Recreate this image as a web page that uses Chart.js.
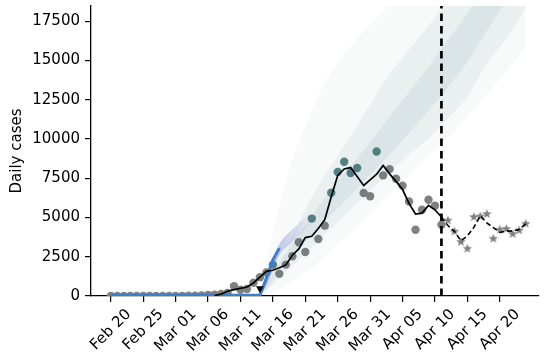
<!DOCTYPE html>
<html>
<head>
<meta charset="utf-8">
<script src="https://cdn.jsdelivr.net/npm/chart.js@4.4.1/dist/chart.umd.min.js"></script>
<style>
  html, body { margin: 0; padding: 0; background: #fff; }
  #wrap { width: 544px; height: 358px; }
</style>
</head>
<body>
<div id="wrap"><canvas id="casesChart"></canvas></div>
<script>
// day 0 = Feb 20 (2020)
const tickDays = [0, 5, 10, 15, 20, 25, 30, 35, 40, 45, 50, 55, 60];
const tickLabels = ['Feb 20', 'Feb 25', 'Mar 01', 'Mar 06', 'Mar 11', 'Mar 16', 'Mar 21',
                    'Mar 26', 'Mar 31', 'Apr 05', 'Apr 10', 'Apr 15', 'Apr 20'];
const yTicks = [0, 2500, 5000, 7500, 10000, 12500, 15000, 17500];
const yMax = 18470;
const cutoffDay = 51;

// observed daily cases, day 0..51
const observed = [0, 0, 0, 0, 0, 0, 0, 0, 0, 0,
                  5, 10, 15, 20, 30, 60, 90, 130, 200, 620,
                  400, 450, 840, 1200, 1500, 2000, 1410, 2000, 2530, 3420,
                  2800, 4930, 3630, 4480, 6580, 7900, 8550, 7830, 8150, 6560,
                  6350, 9200, 7680, 8080, 7470, 7020, 6020, 4220, 5490, 6130,
                  5750, 4540];
// cases after the cut-off, day 52..64
const laterStart = 52;
const later = [4810, 4110, 3440, 3010, 5030, 5070, 5220, 3650, 4220, 4270, 3950, 4180, 4600];

// smoothed curve, day 16..51 and dashed part day 51..64
const smoothStart = 16;
const smoothed = [30, 120, 300, 410, 490, 570, 830, 1200, 1570, 1640,
                  1800, 1980, 2600, 3000, 3720, 3800, 4300, 4860, 6320, 7680,
                  8090, 8180, 7610, 7040, 7400, 7760, 8310, 7780, 7300, 6780,
                  5900, 5220, 5280, 5770, 5490, 5030];
const smoothLater = [5030, 4490, 4120, 3520, 3830, 4370, 5110, 4650, 4360, 4050, 4150, 4130, 4240, 4600];

// intervention marker
const markerDay = 23;
const markerValue = 470;

// model fit (blue)
const fitDays = [0, 23, 24, 25, 26];
const fitValues = [50, 50, 1150, 2300, 3050];

// early sample band (purple)
const earlyDays = [23, 24, 26, 28, 30, 31];
const earlyLow = [0, 700, 2600, 3450, 4250, 4700];
const earlyHigh = [100, 1300, 3300, 4250, 5000, 5500];

// projection sample band
const fanDays = [23, 24, 25, 26, 28, 31, 34, 37, 40, 43, 46, 49, 52, 55, 58, 61, 64];
const fanOuterHigh = [300, 2200, 4000, 5700, 8700, 11800, 14300, 15900, 17300, 18600, 19800, 21000, 22200, 23400, 24600, 25800, 27000];
const fanInnerHigh = [150, 900, 1700, 2500, 3900, 6300, 8300, 10200, 12200, 14100, 15700, 17200, 18800, 20400, 22000, 23600, 25200];
const fanCoreHigh = [120, 700, 1400, 2100, 3300, 5100, 6800, 8300, 9800, 11400, 13000, 14600, 16300, 18000, 19800, 21600, 23400];
const fanCoreLow = [80, 450, 1000, 1550, 2500, 3900, 5200, 6400, 7700, 9000, 10400, 11800, 13300, 14900, 16900, 18800, 20600];
const fanInnerLow = [50, 350, 750, 1200, 1900, 3100, 4300, 5500, 6700, 7900, 9000, 10000, 11300, 12700, 14800, 16400, 18300];
const fanOuterLow = [0, 100, 250, 450, 900, 1800, 2900, 4000, 5200, 6500, 7700, 8900, 10100, 11400, 12800, 14300, 15800];

// dots that sit inside the sample band look teal
const tintedDays = [25, 31, 34, 35, 36, 37, 38, 41];

const FONT = 'DejaVu Sans';

function pts(days, vals) {
    return vals.map((v, i) => ({ x: days[i], y: v }));
}
function run(start, vals) {
    return vals.map((v, i) => ({ x: start + i, y: v }));
}

// filled five-point star like matplotlib '*'
function makeStar(r, color) {
    const c = document.createElement('canvas');
    const s = Math.ceil(r * 2 + 2);
    c.width = s; c.height = s;
    const g = c.getContext('2d');
    g.fillStyle = color;
    g.beginPath();
    for (let i = 0; i < 10; i++) {
        const rad = i % 2 ? r * 0.42 : r;
        const a = -Math.PI / 2 + i * Math.PI / 5;
        const px = s / 2 + rad * Math.cos(a), py = s / 2 + rad * Math.sin(a);
        if (i) g.lineTo(px, py); else g.moveTo(px, py);
    }
    g.closePath();
    g.fill();
    return c;
}

// x labels rotated 45 deg and centred on the tick
const dateLabels = {
    id: 'dateLabels',
    afterDraw(chart) {
        const xs = chart.scales.x;
        const c = chart.ctx;
        const top = chart.chartArea.bottom + 10;
        c.save();
        c.font = '15px "' + FONT + '"';
        c.fillStyle = '#000';
        c.textAlign = 'center';
        c.textBaseline = 'middle';
        tickDays.forEach((d, i) => {
            const w = c.measureText(tickLabels[i]).width;
            const cy = top + (w + 17) * Math.SQRT1_2 / 2;
            c.save();
            c.translate(xs.getPixelForValue(d), cy);
            c.rotate(-Math.PI / 4);
            c.fillText(tickLabels[i], 0, 0);
            c.restore();
        });
        c.restore();
    }
};

const fanColor = a => `rgba(70, 112, 118, ${a})`;

const datasets = [
    { data: pts(fanDays, fanOuterHigh), fill: 1, backgroundColor: fanColor(0.035), order: 10 },
    { data: pts(fanDays, fanOuterLow), fill: false, order: 10 },
    { data: pts(fanDays, fanInnerHigh), fill: 3, backgroundColor: fanColor(0.075), order: 10 },
    { data: pts(fanDays, fanInnerLow), fill: false, order: 10 },
    { data: pts(fanDays, fanCoreHigh), fill: 5, backgroundColor: fanColor(0.09), order: 10 },
    { data: pts(fanDays, fanCoreLow), fill: false, order: 10 },
    {
        data: pts(earlyDays, earlyHigh), fill: 7, order: 9,
        backgroundColor: ctx => {
            const ch = ctx.chart;
            if (!ch.chartArea) return 'rgba(110,110,200,0.4)';
            const xs = ch.scales.x;
            const g = ch.ctx.createLinearGradient(xs.getPixelForValue(23), 0, xs.getPixelForValue(31), 0);
            g.addColorStop(0, 'rgba(100,110,205,0.6)');
            g.addColorStop(1, 'rgba(100,110,205,0)');
            return g;
        }
    },
    { data: pts(earlyDays, earlyLow), fill: false, order: 9 },
    {
        data: run(0, observed), showLine: false, pointRadius: 4.2, pointBorderWidth: 0,
        pointBackgroundColor: ctx => (ctx.raw && tintedDays.includes(ctx.raw.x)) ? '#568387' : '#808080',
        clip: 0, order: 20
    },
    {
        data: run(laterStart, later), showLine: false, pointRadius: 5,
        pointStyle: makeStar(5, '#808080'), order: 4
    },
    { data: pts(fitDays, fitValues), borderColor: '#3d7fc6', borderWidth: 3, tension: 0, order: 8 },
    { data: run(smoothStart, smoothed), borderColor: '#000', borderWidth: 1.7, tension: 0, order: 3 },
    {
        data: [{ x: markerDay, y: markerValue }], showLine: false, pointStyle: 'triangle',
        rotation: 180, pointRadius: 4.5, pointBackgroundColor: '#000', pointBorderWidth: 0, order: 2
    },
    { data: run(cutoffDay, smoothLater), borderColor: '#000', borderWidth: 1.6, borderDash: [5, 3], tension: 0, order: 3 },
    {
        data: [{ x: cutoffDay, y: 0 }, { x: cutoffDay, y: yMax }],
        borderColor: '#000', borderWidth: 2.7, borderDash: [7.5, 5], order: 1
    }
];

datasets.forEach(ds => {
    if (ds.pointRadius === undefined) ds.pointRadius = 0;
    if (ds.borderWidth === undefined) ds.borderWidth = 0;
    if (ds.order >= 9 && ds.order <= 10) ds.cubicInterpolationMode = 'monotone';
});

new Chart(document.getElementById('casesChart'), {
    type: 'line',
    data: { datasets },
    options: {
        responsive: true,
        maintainAspectRatio: false,
        animation: false,
        layout: { padding: { top: 6, right: 1, left: 0, bottom: 0 } },
        plugins: { legend: { display: false }, tooltip: { enabled: false } },
        scales: {
            x: {
                type: 'linear',
                min: -3.06,
                max: 66.05,
                afterBuildTicks: s => { s.ticks = tickDays.map(v => ({ value: v })); },
                afterFit: s => { s.height = 62; s.paddingLeft = 0; s.paddingRight = 0; },
                ticks: { display: false },
                grid: { display: true, drawOnChartArea: false, drawTicks: true, tickLength: 6, color: '#000', lineWidth: 1.2 },
                border: { display: true, color: '#000', width: 1.3 }
            },
            y: {
                min: 0,
                max: yMax,
                afterBuildTicks: s => { s.ticks = yTicks.map(v => ({ value: v })); },
                afterFit: s => { s.width = 91; s.paddingTop = 0; s.paddingBottom = 0; },
                ticks: {
                    callback: v => String(v),
                    color: '#000',
                    padding: 5,
                    font: { family: FONT, size: 15 }
                },
                title: {
                    display: true,
                    text: 'Daily cases',
                    color: '#000',
                    font: { family: FONT, size: 15 },
                    padding: { top: 8, bottom: 0 }
                },
                grid: { display: true, drawOnChartArea: false, drawTicks: true, tickLength: 6, color: '#000', lineWidth: 1.2 },
                border: { display: true, color: '#000', width: 1.3 }
            }
        }
    },
    plugins: [dateLabels]
});
</script>
</body>
</html>
